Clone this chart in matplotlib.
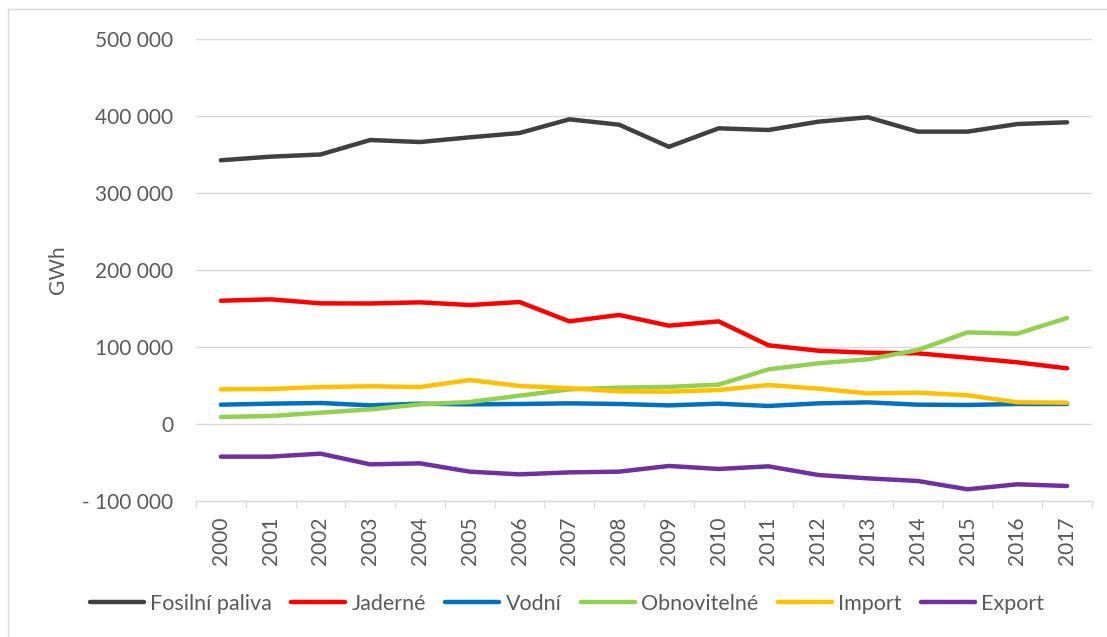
import matplotlib
matplotlib.use("Agg")
import matplotlib.pyplot as plt
from matplotlib.lines import Line2D
from matplotlib.ticker import FuncFormatter

plt.rcParams["font.family"] = ["Lato", "DejaVu Sans"]

years = list(range(2000, 2018))

fosilni = [342500, 347200, 350000, 368800, 366200, 372300, 377900, 395700, 388700, 360000,
           384000, 381800, 392600, 398300, 379700, 379700, 389600, 391800]
jaderne = [160100, 161900, 156700, 156500, 158000, 154500, 158400, 133300, 141600, 127700,
           133300, 102200, 95200, 92600, 91800, 86100, 80100, 72300]
vodni = [25100, 26400, 27300, 24200, 26400, 25500, 26000, 26800, 26000, 24200,
         26400, 23400, 26800, 28100, 25100, 24700, 26000, 26000]
obnovitelne = [9100, 10400, 14700, 19000, 25500, 28600, 36800, 45000, 47200, 48200,
               51100, 71000, 78800, 84000, 96100, 119000, 117300, 137700]
import_ = [45000, 45500, 48000, 49000, 48000, 57100, 49400, 46500, 42400, 42000,
           44200, 50600, 45900, 39800, 40700, 37300, 28200, 27700]
export = [-42400, -42400, -38500, -52400, -51100, -61900, -65400, -62800, -61900, -54500,
          -58400, -55000, -66200, -70600, -74000, -84800, -78300, -80500]

series = [
    ("Fosilní paliva", fosilni, "#404040"),
    ("Jaderné", jaderne, "#FF0000"),
    ("Vodní", vodni, "#0070C0"),
    ("Obnovitelné", obnovitelne, "#92D050"),
    ("Import", import_, "#FFC000"),
    ("Export", export, "#7030A0"),
]

W, H = 1107, 637
fig = plt.figure(figsize=(W / 100, H / 100), dpi=100)
ax = fig.add_axes([196 / W, (H - 501) / H, (1092 - 196) / W, (501 - 39) / H])

x = list(range(len(years)))
for name, vals, col in series:
    ax.plot(x, vals, color=col, linewidth=3.2, label=name, solid_capstyle="round",
            solid_joinstyle="round")

TXT = "#595959"
GRID = "#D9D9D9"

ax.set_xlim(-0.5, len(years) - 0.5)
ax.set_ylim(-100000, 500000)
ax.set_yticks(range(-100000, 500001, 100000))


def fmt(v, _):
    s = f"{abs(int(v)):,}".replace(",", " ")
    return "- " + s if v < 0 else s


ax.yaxis.set_major_formatter(FuncFormatter(fmt))
ax.set_xticks(x)
ax.set_xticklabels([str(y) for y in years], rotation=90)
ax.set_xticks([i - 0.5 for i in range(len(years) + 1)], minor=True)

ax.tick_params(axis="y", length=0, pad=16.5, labelsize=15, labelcolor=TXT)
ax.tick_params(axis="x", which="major", length=0, pad=11, labelsize=15, labelcolor=TXT)
ax.tick_params(axis="x", which="minor", length=5, width=0.8, color=GRID)

ax.grid(axis="y", color=GRID, linewidth=1.0)
ax.set_axisbelow(True)
for s in ("top", "right", "left"):
    ax.spines[s].set_visible(False)
ax.spines["bottom"].set_color(GRID)
ax.spines["bottom"].set_linewidth(1.0)

fig.text(58 / W, 1 - 270 / H, "GWh", rotation=90, ha="center", va="center",
         fontsize=15, color=TXT)

fig.legend(loc="center", bbox_to_anchor=(567 / W, 1 - 604 / H), ncol=6, frameon=False,
           fontsize=15.5, labelcolor=TXT, handlelength=2.5, handletextpad=0.3,
           columnspacing=0.9)

# chart-area border (left and top edges visible)
fig.add_artist(Line2D([8 / W, 8 / W], [0, 1 - 9 / H], transform=fig.transFigure,
                      color=GRID, linewidth=1.0))
fig.add_artist(Line2D([8 / W, 1], [1 - 9 / H, 1 - 9 / H], transform=fig.transFigure,
                      color=GRID, linewidth=1.0))

fig.savefig("out.png", dpi=100, facecolor="white")
